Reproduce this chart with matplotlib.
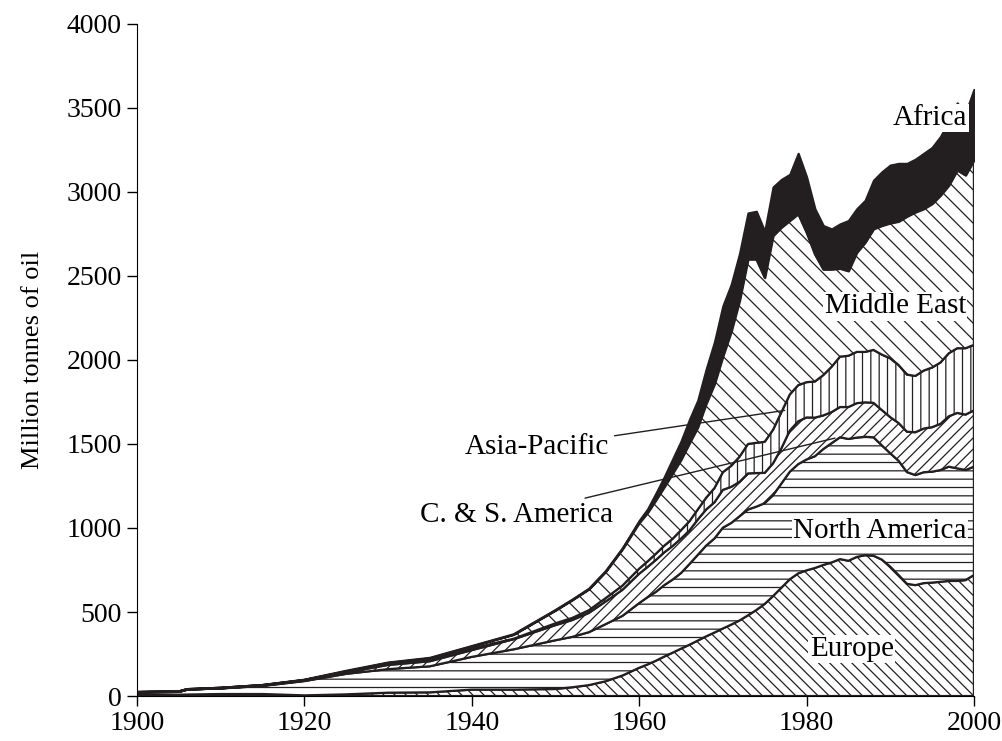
import matplotlib
matplotlib.use("Agg")
import matplotlib.pyplot as plt
import numpy as np

plt.rcParams['font.family'] = ['Liberation Serif', 'DejaVu Serif']
plt.rcParams['hatch.linewidth'] = 0.9

# world oil production by region, million tonnes
years = [1900, 1905, 1906, 1910, 1915, 1920, 1925, 1930, 1935, 1940, 1945,
         1950, 1952, 1954, 1956, 1958] + list(range(1960, 2001))

europe = [10, 8, 9, 12, 12, 4, 10, 20, 22, 38, 38,
          42, 52, 65, 88, 122,
          168, 188, 210, 235, 258, 282, 305, 330, 355, 378,
          402, 425, 450, 480, 512, 548, 595, 645, 695, 730,
          748, 762, 780, 795, 815, 805, 828, 838, 835, 812,
          770, 720, 668, 660, 672, 675, 680, 685, 685, 690, 720]

north_america = [13, 18, 30, 33, 48, 85, 122, 140, 155, 195, 240,
                 290, 300, 315, 340, 355,
                 385, 400, 410, 425, 435, 450, 480, 510, 540, 560,
                 600, 605, 620, 630, 615, 600, 600, 620, 640, 650,
                 660, 665, 690, 710, 725, 725, 710, 705, 705, 680,
                 675, 680, 665, 655, 660, 660, 665, 680, 670, 655, 645]

cs_america = [0, 0, 0, 1, 2, 3, 8, 25, 30, 40, 60,
              90, 100, 115, 135, 155,
              175, 180, 190, 195, 200, 205, 200, 210, 215, 215,
              225, 215, 205, 215, 200, 180, 190, 210, 245, 255,
              250, 230, 200, 185, 180, 190, 205, 205, 205, 210,
              215, 225, 240, 255, 260, 265, 275, 300, 330, 330, 335]

asia_pacific = [1, 1.5, 2, 3, 3, 3, 5, 8, 9, 10, 3,
                11, 13, 16, 20, 25,
                30, 33, 37, 40, 43, 50, 55, 60, 70, 85,
                105, 125, 150, 175, 180, 185, 200, 215, 215, 215,
                210, 215, 240, 270, 300, 305, 305, 300, 315, 330,
                350, 345, 340, 335, 345, 355, 365, 375, 385, 395, 390]

middle_east = [0, 0, 0, 0, 0.5, 2, 5, 6, 11, 14, 26,
               78, 107, 126, 158, 218,
               273, 290, 320, 350, 390, 420, 465, 490, 560, 620,
               690, 800, 930, 1100, 1093, 977, 1155, 1100, 1035, 1020,
               892, 758, 630, 580, 525, 505, 592, 652, 720, 768,
               805, 855, 942, 975, 963, 975, 995, 1000, 1060, 1030, 1100]

africa = [0, 0, 0, 0, 0, 0.2, 0.2, 0.3, 0.3, 1, 1,
          2, 3, 3, 4, 5,
          14, 22, 40, 60, 85, 110, 140, 160, 205, 250,
          300, 280, 280, 275, 285, 275, 290, 285, 275, 360,
          330, 270, 260, 240, 265, 300, 260, 250, 290, 320,
          345, 345, 315, 315, 330, 335, 350, 380, 400, 370, 420]

layers = [europe, north_america, cs_america, asia_pacific, middle_east, africa]
hatches = ['\\\\\\', '--', '///', '||', '\\\\', None]
faces = ['white', 'white', 'white', 'white', 'white', '#231f20']

fig = plt.figure(figsize=(10.03, 7.41), dpi=100)
ax = fig.add_axes([0.1366, 0.0607, 0.8344, 0.907])

x = np.array(years)
base = np.zeros(len(years))
for vals, h, fc in zip(layers, hatches, faces):
    top = base + np.array(vals, dtype=float)
    ax.fill_between(x, base, top, facecolor=fc, edgecolor='#231f20',
                    hatch=h, linewidth=1.6)
    base = top

tf = 20
lf = 21
box = dict(facecolor='white', edgecolor='none', pad=1)
ax.text(1999.2, 3440, 'Africa', fontsize=lf, ha='right', va='center', bbox=box)
ax.text(1990.6, 2320, 'Middle East', fontsize=lf, ha='center', va='center', bbox=box)
ax.text(1988.8, 985, 'North America', fontsize=lf, ha='center', va='center', bbox=box)
ax.text(1985.4, 280, 'Europe', fontsize=lf, ha='center', va='center', bbox=box)
ax.annotate('Asia-Pacific', xy=(1977.4, 1700), xytext=(1956.4, 1480),
            fontsize=lf, ha='right', va='center',
            arrowprops=dict(arrowstyle='-', lw=1, color='#231f20',
                            shrinkA=2, shrinkB=0))
ax.annotate('C. & S. America', xy=(1983.4, 1535), xytext=(1956.9, 1080),
            fontsize=lf, ha='right', va='center',
            arrowprops=dict(arrowstyle='-', lw=1, color='#231f20',
                            shrinkA=2, shrinkB=0))

ax.set_xlim(1900, 2000)
ax.set_ylim(0, 4000)
ax.set_xticks(range(1900, 2001, 20))
ax.set_yticks(range(0, 4001, 500))
ax.tick_params(direction='out', length=7, width=1, labelsize=tf, pad=4)
ax.spines['top'].set_visible(False)
ax.spines['right'].set_visible(False)
ax.set_ylabel('Million tonnes of oil', fontsize=19, labelpad=16)

fig.savefig('out.png', dpi=100)
